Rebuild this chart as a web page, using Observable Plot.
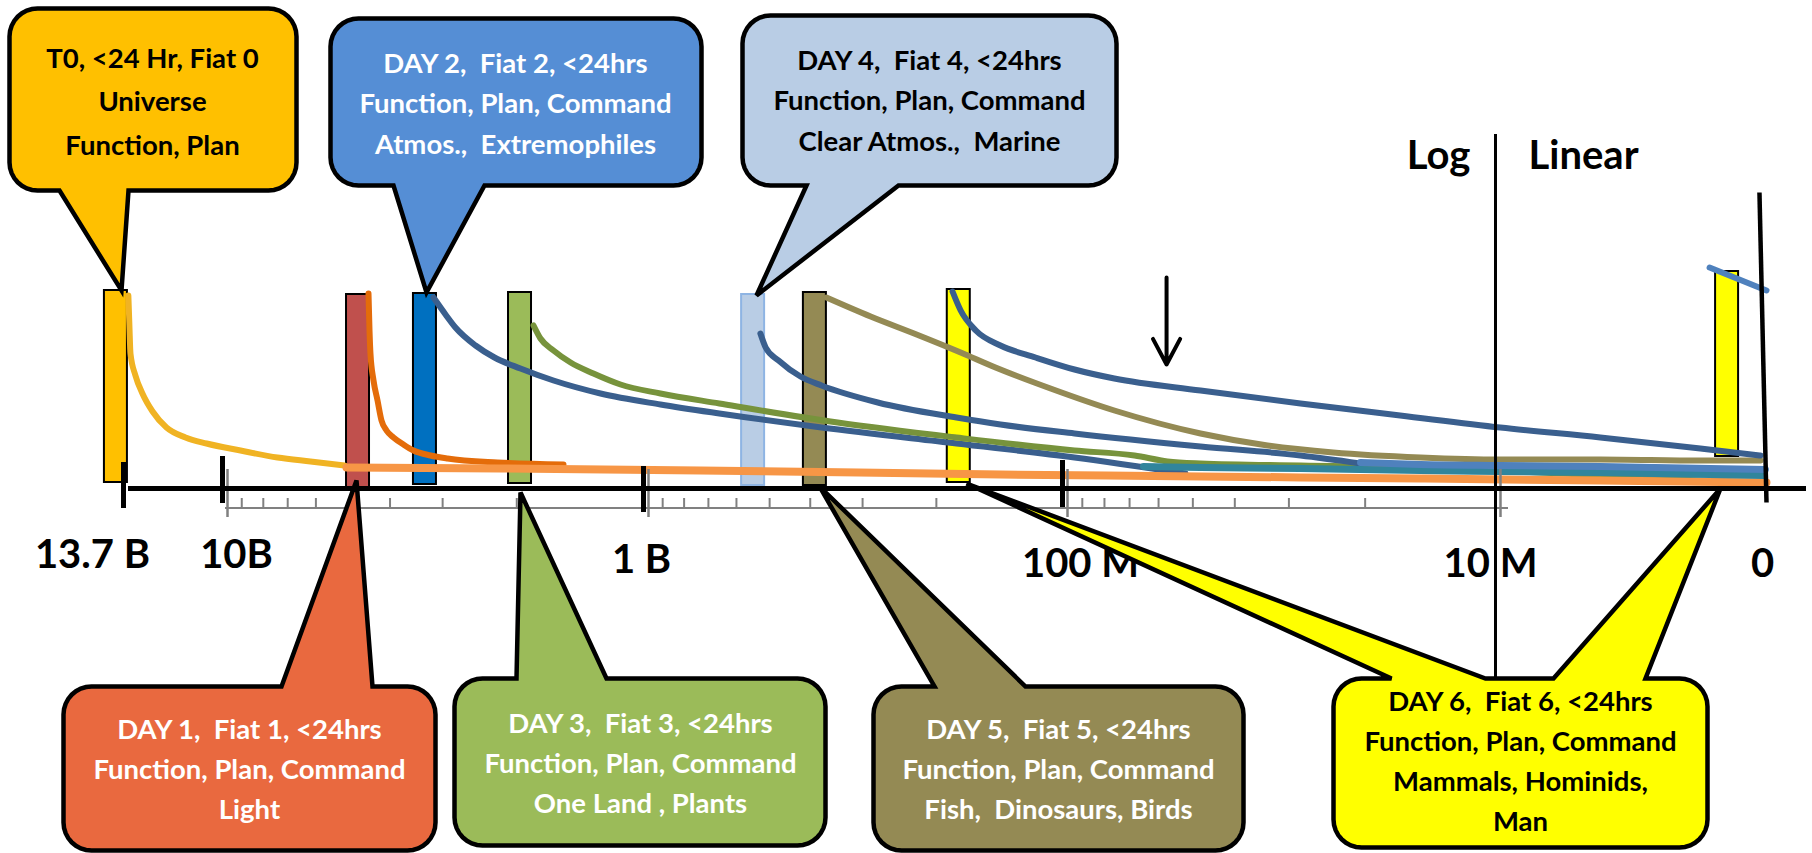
<!DOCTYPE html>
<html><head><meta charset="utf-8">
<script src="https://cdn.jsdelivr.net/npm/d3@7"></script>
<script src="https://cdn.jsdelivr.net/npm/@observablehq/plot@0.6"></script>
<style>
html,body{margin:0;padding:0;background:#fff;}
#chart svg{display:block;}
#chart text{white-space:pre;}
</style>
</head><body><div id="chart"></div>
<script>
// ================= DATA (ages in millions of years ago, levels = height above the time axis) =================
const tickAges   = [13700, 10000, 1000, 100, 10, 0];
const tickLabels = ["13.7 B", "10B", "1 B", "100 M", "10 M", "0"];
const minorTickAges = [9000, 8000, 7000, 6000, 5000, 4000, 3000, 2000,
                       900, 800, 700, 600, 500, 400, 300, 200,
                       90, 80, 70, 60, 50, 40, 30, 20];

const eventNames = ["T0", "Day 1", "Day 2", "Day 3", "Day 4", "Day 5", "Day 6", "Day 6 (Man)"];
const eventAges  = [13530, 4475, 3103, 1845, 514, 366, 166, 1.03];
const eventTop   = [198, 194, 195, 196, 194, 196, 199, 217];
const eventBase  = [6, 0, 4, 5, 3, 3, 6, 32];

const goldAge   = [13490, 13445, 13400, 13190, 12900, 12490, 11950, 11250, 10520, 9061, 7403, 6180, 5131];
const goldLvl   = [193, 163, 135, 113, 95, 77, 61, 51, 45, 38, 31, 27, 23];
const day1Age   = [4500, 4475, 4452, 4378, 4283, 4191, 4078, 3925, 3717, 3518, 3206, 2922, 2222, 1549];
const day1Lvl   = [195, 158, 135, 108, 88, 68, 58, 51, 44, 38, 33, 30, 26, 24];
const day2Age   = [3154, 2953, 2797, 2506, 2259, 1960, 1636, 1265, 911, 659, 376, 179, 93.8, 52.0];
const day2Lvl   = [191, 174, 161, 143, 131, 120, 108, 95, 84, 75, 61, 45, 31, 15];
const day3Age   = [1825, 1757, 1636, 1490, 1315, 1134, 911, 659, 344, 179, 93.8, 68.2, 57.2, 48.0, 28.2, 14.9, 9.82, 6.13, 2.44, 0.11];
const day3Lvl   = [163, 150, 138, 126, 115, 104, 95, 85, 66, 51, 38, 33, 27, 25, 23, 21, 18, 13, 8, 5];
const day4Age   = [526, 511, 476, 422, 376, 276, 179, 140.6, 93.8, 48.0, 28.2, 20.5];
const day4Lvl   = [155, 141, 128, 112, 103, 86, 71, 64, 55, 42, 33, 25];
const day5Age   = [366, 287, 223, 175, 144.5, 106.8, 75.9, 48.0, 33.6, 23.7, 14.9, 9.82, 6.13, 2.44, 0.22];
const day5Lvl   = [191, 172, 154, 136, 121, 100, 78, 55, 43, 36, 31, 29, 29, 28, 28];
const day6Age   = [183, 175, 161, 140.6, 116, 93.8, 75.9, 48.0, 28.2, 16.6, 9.82, 6.13, 2.44, 0.22];
const day6Lvl   = [197, 178, 158, 143, 131, 119, 110, 98, 85, 73, 61, 51, 40, 33];
const orangeAge = [5076, 2186, 731, 140.6, 48.0, 14.9, 6.13, 0];
const orangeLvl = [21, 20, 18, 14, 12, 10, 8, 6];
const tealAge   = [65.0, 48.0, 28.2, 14.9, 9.82, 6.13, 0.11];
const tealLvl   = [22, 21, 20, 18, 17, 16, 13];
const steelAge  = [20.5, 14.9, 9.82, 6.13, 0.04];
const steelLvl  = [26, 24, 23, 22, 19];
const manAge    = [2.10, 0];
const manLvl    = [221, 198];
const arrowAge  = 57.5;

const t0Lines   = ["T0, <24 Hr, Fiat 0", "Universe", "Function, Plan"];
const day1Lines = ["DAY 1,  Fiat 1, <24hrs", "Function, Plan, Command", "Light"];
const day2Lines = ["DAY 2,  Fiat 2, <24hrs", "Function, Plan, Command", "Atmos.,  Extremophiles"];
const day3Lines = ["DAY 3,  Fiat 3, <24hrs", "Function, Plan, Command", "One Land , Plants"];
const day4Lines = ["DAY 4,  Fiat 4, <24hrs", "Function, Plan, Command", "Clear Atmos.,  Marine"];
const day5Lines = ["DAY 5,  Fiat 5, <24hrs", "Function, Plan, Command", "Fish,  Dinosaurs, Birds"];
const day6Lines = ["DAY 6,  Fiat 6, <24hrs", "Function, Plan, Command", "Mammals, Hominids,", "Man"];

// ================= LAYOUT & STYLE =================
const W = 1812, H = 853, AXIS_Y = 488;
const toU = ma => ma >= 10 ? -Math.log10(ma) : -1 + (10 - ma) / 10;   // log part, then linear part
const xStops = [123, 222, 643, 1062, 1495, 1766];
const uStops = tickAges.map(toU);
const X = d3.scaleLinear().domain(uStops).range(xStops);   // same piecewise mapping as Plot's x scale
const ux = px => X.invert(px);
const hy = py => AXIS_Y - py;

const barFill   = ["#FFC000", "#C0504D", "#0070C0", "#9BBB59", "#B9CDE5", "#948A54", "#FFFF00", "#FFFF00"];
const barStroke = ["#000", "#000", "#000", "#000", "#8EB4E3", "#000", "#000", "#000"];
const BAR_W = 23;

const majorTop = [26, 32, 22, 28];
const majorBot = [-20, -15, -24, -19];
const labelDx  = [-31, 14, -2, 18, -5, -4];
const labelBase = [567, 567, 572, 576, 576, 576];
const LABEL_FS = 40, CALL_FS = 27.5;

const callouts = [
  {lines: t0Lines,   fill: "#FFC000", ink: "#000", box: [9, 296, 8, 190],      side: "bottom", tails: [[59, 128, 121, 290]], cx: 152,  base: [67, 110, 154]},
  {lines: day1Lines, fill: "#E9693F", ink: "#fff", box: [63, 435, 686, 850],   side: "top",    tails: [[281, 372, 356, 480]], cx: 249, base: [738, 778, 818]},
  {lines: day2Lines, fill: "#558ED5", ink: "#fff", box: [330, 701, 18, 185],   side: "bottom", tails: [[393, 484, 426, 292]], cx: 515, base: [72, 112, 153]},
  {lines: day3Lines, fill: "#9BBB59", ink: "#fff", box: [454, 825, 678, 845],  side: "top",    tails: [[516, 606, 520, 492]], cx: 640, base: [732, 772, 812]},
  {lines: day4Lines, fill: "#B9CDE5", ink: "#000", box: [742, 1116, 15, 185],  side: "bottom", tails: [[806, 898, 756, 295]], cx: 929, base: [69, 109, 150]},
  {lines: day5Lines, fill: "#948A54", ink: "#fff", box: [873, 1243, 686, 850], side: "top",    tails: [[934, 1025, 819, 486]], cx: 1058, base: [738, 778, 818]},
  {lines: day6Lines, fill: "#FFFF00", ink: "#000", box: [1333, 1707, 678, 847], side: "top",   tails: [[1391, 1485, 966, 483], [1553, 1645, 1720, 488]], cx: 1520, base: [710, 750, 790, 830]}
];

function calloutOutline(c) {
  const [x0, x1, y0, y1] = c.box, r = 28, pts = [];
  const arc = (cx, cy, a0, a1) => { for (let k = 0; k <= 8; k++) { const a = a0 + (a1 - a0) * k / 8; pts.push([cx + r * Math.cos(a), cy + r * Math.sin(a)]); } };
  arc(x0 + r, y0 + r, Math.PI, 1.5 * Math.PI);
  if (c.side === "top") [...c.tails].sort((a, b) => a[0] - b[0]).forEach(t => { pts.push([t[0], y0], [t[2], t[3]], [t[1], y0]); });
  arc(x1 - r, y0 + r, 1.5 * Math.PI, 2 * Math.PI);
  arc(x1 - r, y1 - r, 0, 0.5 * Math.PI);
  if (c.side === "bottom") [...c.tails].sort((a, b) => b[1] - a[1]).forEach(t => { pts.push([t[1], y1], [t[2], t[3]], [t[0], y1]); });
  arc(x0 + r, y1 - r, 0.5 * Math.PI, Math.PI);
  pts.push(pts[0]);
  return pts.map(([px, py]) => ({u: ux(px), h: hy(py)}));
}

// ================= MARKS =================
const events = eventNames.map((name, i) => ({name, age: eventAges[i], top: eventTop[i], base: eventBase[i], fill: barFill[i], stroke: barStroke[i]}));
const series = (ages, lvls) => ages.map((a, i) => ({age: a, lvl: lvls[i]}));
const curves = [
  [goldAge, goldLvl, "#F0B323", 6],
  [day1Age, day1Lvl, "#E46C0A", 6],
  [day2Age, day2Lvl, "#3A5F8E", 6],
  [day3Age, day3Lvl, "#77933C", 6],
  [day4Age, day4Lvl, "#3A5F8E", 6],
  [day5Age, day5Lvl, "#948A54", 6],
  [day6Age, day6Lvl, "#3A5F8E", 6],
  [orangeAge, orangeLvl, "#F79646", 8],
  [tealAge, tealLvl, "#31859C", 7],
  [steelAge, steelLvl, "#4F81BD", 7],
  [manAge, manLvl, "#4F81BD", 6]
];

const marks = [];
marks.push(Plot.rect(events, {x1: d => toU(d.age), x2: d => toU(d.age), insetLeft: -BAR_W, y1: "base", y2: "top", fill: "fill", stroke: "stroke", strokeWidth: 2}));
curves.forEach(([a, l, color, w]) => marks.push(Plot.line(series(a, l), {x: d => toU(d.age), y: "lvl", stroke: color, strokeWidth: w, curve: "monotone-x"})));

// ruler
marks.push(Plot.ruleY([-19.5], {x1: ux(225), x2: ux(1508), stroke: "#808080", strokeWidth: 2}));
marks.push(Plot.ruleX(minorTickAges, {x: toU, y1: -10, y2: -19.5, stroke: "#808080", strokeWidth: 2}));
marks.push(Plot.ruleX([10000, 1000, 100, 10], {x: toU, dx: 5, y1: 19, y2: -29, stroke: "#808080", strokeWidth: 2.5}));
// axis
marks.push(Plot.ruleY([0], {x1: ux(128), x2: ux(1806), stroke: "#000", strokeWidth: 5}));
marks.push(Plot.ruleX(tickAges.slice(0, 4).map((a, i) => ({a, t: majorTop[i], b: majorBot[i]})), {x: d => toU(d.a), y1: "t", y2: "b", stroke: "#000", strokeWidth: 5}));
marks.push(Plot.ruleX([10], {x: toU, y1: hy(134), y2: hy(677), stroke: "#000", strokeWidth: 3}));
marks.push(Plot.link([0], {x1: toU(0.26), y1: hy(192), x2: toU(0), y2: hy(502), stroke: "#000", strokeWidth: 4.5}));
marks.push(Plot.arrow([0], {x1: toU(arrowAge), x2: toU(arrowAge), y1: hy(277), y2: hy(364), stroke: "#000", strokeWidth: 4, headLength: 14, headAngle: 56}));

// tick labels
tickAges.forEach((a, i) => marks.push(Plot.text([tickLabels[i]], {x: toU(a), y: hy(labelBase[i] - 0.32 * LABEL_FS), text: d => d, dx: labelDx[i], fontSize: LABEL_FS, fontWeight: "bold", fill: "#000"})));
marks.push(Plot.text(["Log"], {x: toU(10), y: hy(168 - 0.32 * LABEL_FS), text: d => d, dx: -25, textAnchor: "end", fontSize: LABEL_FS, fontWeight: "bold", fill: "#000"}));
marks.push(Plot.text(["Linear"], {x: toU(10), y: hy(168 - 0.32 * LABEL_FS), text: d => d, dx: 33, textAnchor: "start", fontSize: LABEL_FS, fontWeight: "bold", fill: "#000"}));

// callouts
callouts.forEach(c => {
  marks.push(Plot.line(calloutOutline(c), {x: "u", y: "h", fill: c.fill, stroke: "#000", strokeWidth: 4.5, strokeLinejoin: "miter", strokeMiterlimit: 4, curve: "linear"}));
  marks.push(Plot.text(c.lines.map((t, i) => ({t, u: ux(c.cx), h: hy(c.base[i] - 0.32 * CALL_FS)})), {x: "u", y: "h", text: "t", fill: c.ink, fontSize: CALL_FS, fontWeight: "bold"}));
});

const chart = Plot.plot({
  width: W, height: H,
  marginTop: 0, marginRight: 0, marginBottom: 0, marginLeft: 0,
  x: {type: "linear", domain: uStops, range: xStops, axis: null},
  y: {type: "linear", domain: [AXIS_Y, AXIS_Y - H], range: [0, H], axis: null},
  color: {type: "identity"},
  style: {background: "#fff", fontFamily: "Lato, 'Open Sans', sans-serif", overflow: "visible"},
  marks
});
document.getElementById("chart").appendChild(chart);
</script>
</body></html>
